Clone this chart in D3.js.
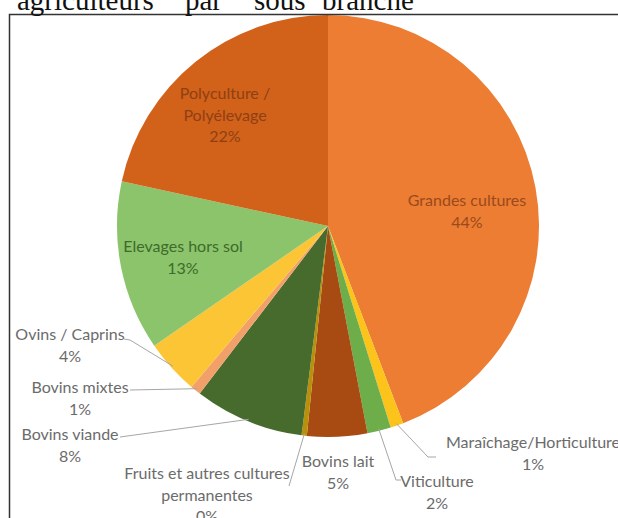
<!DOCTYPE html>
<html>
<head>
<meta charset="utf-8">
<script src="https://cdn.jsdelivr.net/npm/d3@7"></script>
<style>
  body { margin: 0; background: #fff; }
  svg { display: block; }
</style>
</head>
<body>
<div id="chart"></div>
<script>
// data, clockwise from 12 o'clock
const categories = [
    "Grandes cultures",
    "Maraîchage/Horticulture",
    "Viticulture",
    "Bovins lait",
    "Fruits et autres cultures\npermanentes",
    "Bovins viande",
    "Bovins mixtes",
    "Ovins / Caprins",
    "Elevages hors sol",
    "Polyculture /\nPolyélevage"
];
const values = [44.2, 1.0, 1.8, 4.6, 0.4, 8.4, 0.8, 4.2, 13.0, 21.6];

const colors = ["#EC7D33", "#FCC31A", "#6DAE4A", "#A84B12", "#B8900A",
                "#466B2C", "#F2A06A", "#FBC535", "#8BC46B", "#D2611A"];

// heading words (cropped line of the document above the chart)
const headingWords = ["agriculteurs", "par", "sous", "branche"];
const headingX = [17, 185, 254, 322];

// label placement (centre of first line) and leader points on the label side
const labelLayout = [
    { x: 467, y: 199, fill: "#9A4A1C" },
    { x: 533, y: 441, fill: "#6B6B6B", leader: [[436, 457], [428, 457]] },
    { x: 437, y: 480, fill: "#6B6B6B", leader: [[401, 480], [396, 480]] },
    { x: 338, y: 460, fill: "#6B6B6B" },
    { x: 207, y: 472, fill: "#6B6B6B", leader: [[289, 486]] },
    { x: 70, y: 433, fill: "#6B6B6B", leader: [[120, 437]] },
    { x: 80, y: 386, fill: "#6B6B6B", leader: [[130, 390]] },
    { x: 70, y: 333, fill: "#6B6B6B", leader: [[124, 339], [130, 340]] },
    { x: 183, y: 245, fill: "#3E6B2A" },
    { x: 225, y: 92, fill: "#8E4014" }
];

const width = 618;
const height = 518;
const cx = 328, cy = 226, r = 211;
const lineH = 21.5;

const svg = d3.select("#chart")
    .append("svg")
    .attr("width", width)
    .attr("height", height);

const pie = d3.pie().value(d => d).sort(null);
const arcs = pie(values);
const arc = d3.arc().innerRadius(0).outerRadius(r);
const rim = d3.arc().innerRadius(r - 2).outerRadius(r - 2);
const total = d3.sum(values);

const g = svg.append("g")
    .attr("transform", `translate(${cx},${cy})`);

g.selectAll("path")
    .data(arcs)
    .enter()
    .append("path")
    .attr("d", arc)
    .attr("fill", (d, i) => colors[i]);

// leader lines
const line = d3.line();
arcs.forEach((d, i) => {
    const lay = labelLayout[i];
    if (!lay.leader) return;
    const c = rim.centroid(d);
    const pts = lay.leader.concat([[cx + c[0], cy + c[1]]]);
    svg.append("path")
        .attr("d", line(pts))
        .attr("fill", "none")
        .attr("stroke", "#A6A6A6")
        .attr("stroke-width", 1);
});

// data labels
arcs.forEach((d, i) => {
    const lay = labelLayout[i];
    const lines = categories[i].split("\n")
        .concat([Math.round(d.value / total * 100) + "%"]);
    const t = svg.append("text")
        .attr("font-family", "Lato, 'Open Sans', sans-serif")
        .attr("font-size", 16)
        .attr("fill", lay.fill)
        .attr("text-anchor", "middle")
        .attr("dominant-baseline", "central");
    lines.forEach((s, k) => {
        t.append("tspan")
            .attr("x", lay.x)
            .attr("y", lay.y + k * lineH)
            .text(s);
    });
});

// page frame
svg.append("path")
    .attr("d", `M9.5,${height}V14.5H${width}`)
    .attr("fill", "none")
    .attr("stroke", "#333")
    .attr("stroke-width", 1.5);

// cropped heading from the document
svg.selectAll(".heading")
    .data(headingWords)
    .enter()
    .append("text")
    .attr("class", "heading")
    .attr("x", (d, i) => headingX[i])
    .attr("y", 10)
    .attr("font-family", "'Liberation Serif', serif")
    .attr("font-size", 29)
    .attr("fill", "#111")
    .text(d => d);
</script>
</body>
</html>
